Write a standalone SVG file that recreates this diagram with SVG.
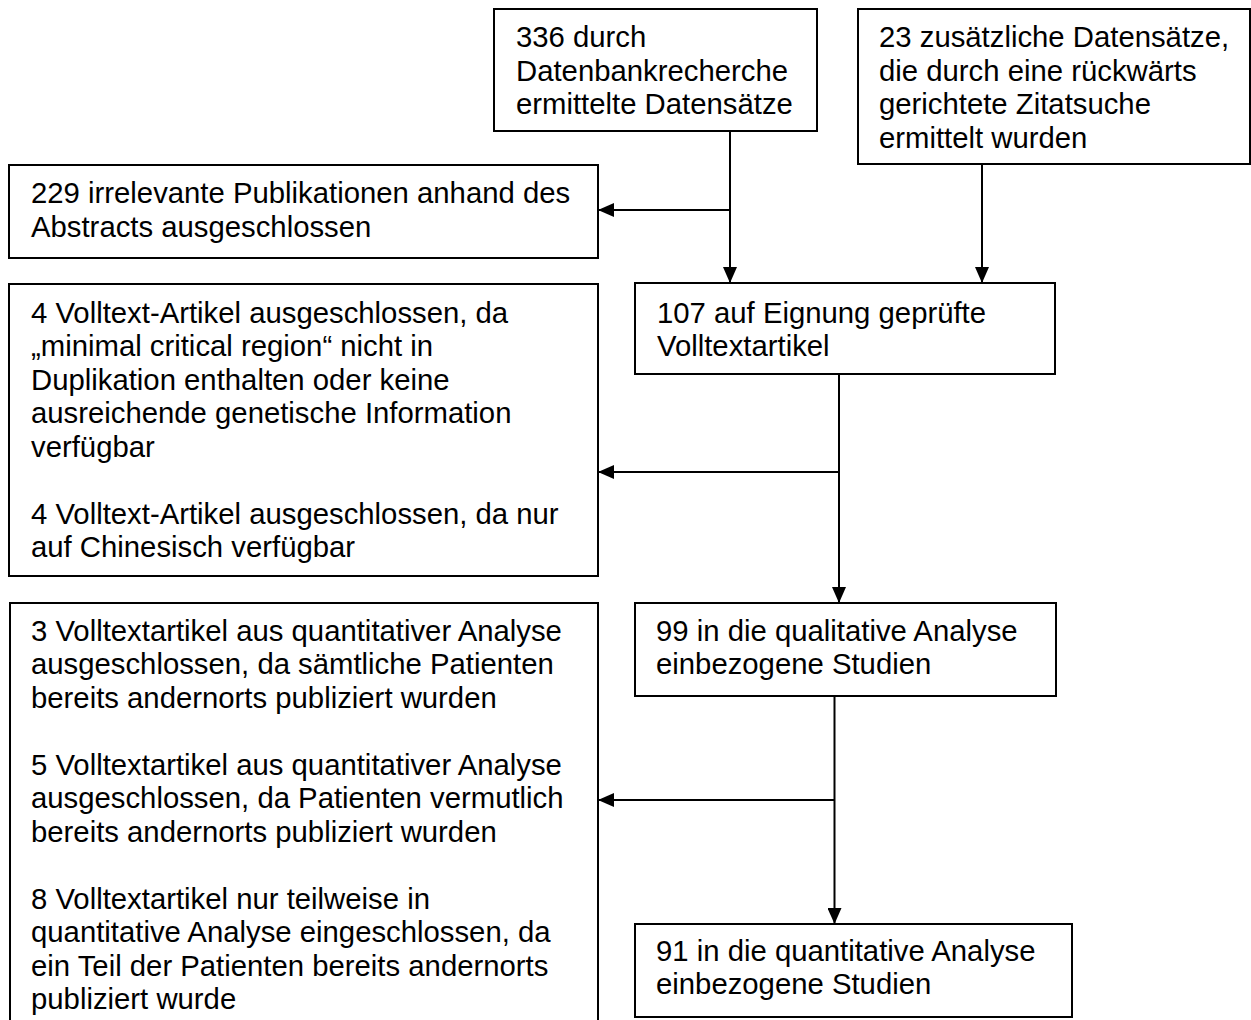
<svg xmlns="http://www.w3.org/2000/svg" width="1251" height="1020" viewBox="0 0 1251 1020">
<defs>
<style>
.box{fill:#fff;stroke:#000;stroke-width:2}
.t{font-family:"Liberation Sans",Arial,sans-serif;font-size:29.3px;fill:#000}
.c{fill:none;stroke:#000;stroke-width:2}
</style>
<marker id="ah" markerUnits="userSpaceOnUse" markerWidth="16" markerHeight="14" viewBox="0 0 16 14" refX="16" refY="7" orient="auto">
<path d="M0,0 L16,7 L0,14 Z" fill="#000"/>
</marker>
</defs>
<rect width="1251" height="1020" fill="#fff"/>
<g id="connectors">
<line class="c" x1="730" y1="131" x2="730" y2="283" marker-end="url(#ah)"/>
<line class="c" x1="730" y1="210" x2="598" y2="210" marker-end="url(#ah)"/>
<line class="c" x1="982" y1="164" x2="982" y2="283" marker-end="url(#ah)"/>
<line class="c" x1="839" y1="374" x2="839" y2="603" marker-end="url(#ah)"/>
<line class="c" x1="839" y1="472" x2="598" y2="472" marker-end="url(#ah)"/>
<line class="c" x1="834.5" y1="696" x2="834.5" y2="924" marker-end="url(#ah)"/>
<line class="c" x1="834.5" y1="800" x2="598" y2="800" marker-end="url(#ah)"/>
</g>
<g id="n336">
<rect class="box" x="494" y="9" width="323" height="122"/>
<text class="t" x="516"><tspan x="516" y="47">336 durch</tspan><tspan x="516" y="80.5">Datenbankrecherche</tspan><tspan x="516" y="114">ermittelte Datensätze</tspan></text>
</g>
<g id="n23">
<rect class="box" x="858" y="9" width="392" height="155"/>
<text class="t"><tspan x="879" y="47">23 zusätzliche Datensätze,</tspan><tspan x="879" y="80.5">die durch eine rückwärts</tspan><tspan x="879" y="114">gerichtete Zitatsuche</tspan><tspan x="879" y="147.5">ermittelt wurden</tspan></text>
</g>
<g id="n229">
<rect class="box" x="9" y="165" width="589" height="93"/>
<text class="t"><tspan x="31" y="203">229 irrelevante Publikationen anhand des</tspan><tspan x="31" y="236.5">Abstracts ausgeschlossen</tspan></text>
</g>
<g id="n107">
<rect class="box" x="635" y="283" width="420" height="91"/>
<text class="t"><tspan x="657" y="322.5">107 auf Eignung geprüfte</tspan><tspan x="657" y="356">Volltextartikel</tspan></text>
</g>
<g id="nexcl1">
<rect class="box" x="9" y="284" width="589" height="292"/>
<text class="t"><tspan x="31" y="322.5">4 Volltext-Artikel ausgeschlossen, da</tspan><tspan x="31" y="356">„minimal critical region“ nicht in</tspan><tspan x="31" y="389.5">Duplikation enthalten oder keine</tspan><tspan x="31" y="423">ausreichende genetische Information</tspan><tspan x="31" y="456.5">verfügbar</tspan><tspan x="31" y="523.5">4 Volltext-Artikel ausgeschlossen, da nur</tspan><tspan x="31" y="557">auf Chinesisch verfügbar</tspan></text>
</g>
<g id="n99">
<rect class="box" x="635" y="603" width="421" height="93"/>
<text class="t"><tspan x="656" y="640.7">99 in die qualitative Analyse</tspan><tspan x="656" y="674">einbezogene Studien</tspan></text>
</g>
<g id="nexcl2">
<path class="c" d="M10,1021 V603 H598 V1021"/>
<text class="t"><tspan x="31" y="640.7">3 Volltextartikel aus quantitativer Analyse</tspan><tspan x="31" y="674.2">ausgeschlossen, da sämtliche Patienten</tspan><tspan x="31" y="707.7">bereits andernorts publiziert wurden</tspan><tspan x="31" y="774.7">5 Volltextartikel aus quantitativer Analyse</tspan><tspan x="31" y="808.2">ausgeschlossen, da Patienten vermutlich</tspan><tspan x="31" y="841.7">bereits andernorts publiziert wurden</tspan><tspan x="31" y="908.7">8 Volltextartikel nur teilweise in</tspan><tspan x="31" y="942.2">quantitative Analyse eingeschlossen, da</tspan><tspan x="31" y="975.7">ein Teil der Patienten bereits andernorts</tspan><tspan x="31" y="1009.2">publiziert wurde</tspan></text>
</g>
<g id="n91">
<rect class="box" x="635" y="924" width="437" height="93"/>
<text class="t"><tspan x="656" y="960.7">91 in die quantitative Analyse</tspan><tspan x="656" y="994">einbezogene Studien</tspan></text>
</g>
</svg>
